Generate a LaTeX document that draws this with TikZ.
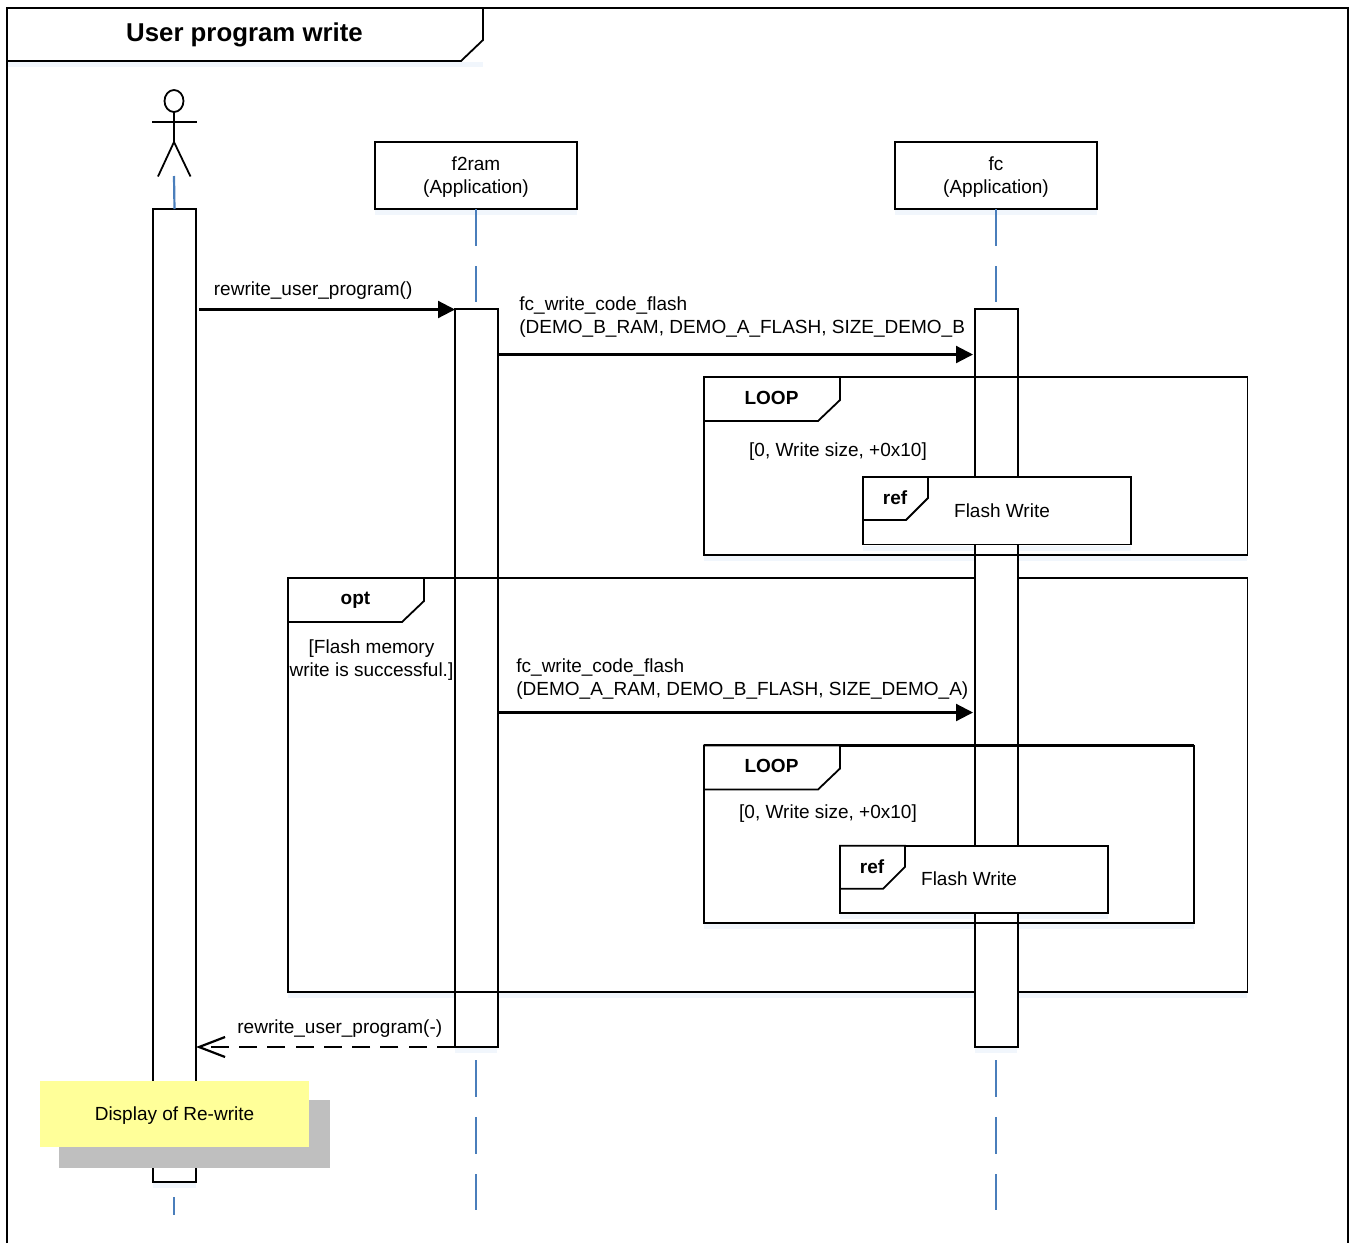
\documentclass[tikz,border=0pt]{standalone}
\usepackage{fontspec}
\setmainfont{Liberation Sans}
\usetikzlibrary{arrows.meta,shapes.geometric}

\def\txtsize{\fontsize{19}{22.7}\selectfont}

\begin{document}
\begin{tikzpicture}[x=1pt,y=-1pt,line width=1.8pt,font=\txtsize]
        \tikzstyle{box}=[rectangle,draw=black,fill=white,inner sep=0pt,outer sep=0pt]
        \tikzstyle{bar}=[box,minimum width=43pt]
        \tikzstyle{head}=[box,minimum width=202pt,minimum height=67pt]
        \tikzstyle{frame}=[rectangle,draw=black,inner sep=0pt,outer sep=0pt]
        \tikzstyle{refbox}=[box,minimum width=268pt,minimum height=67.5pt]
        \tikzstyle{tab}=[draw=black,fill=white,line join=miter]
        \tikzstyle{tabtext}=[font=\txtsize\bfseries,inner sep=0pt]
        \tikzstyle{annot}=[inner sep=0pt,align=center]
        \tikzstyle{msg}=[inner sep=0pt,anchor=base west,align=left]
        \tikzstyle{lifeline}=[draw=lifeblue,line width=2.2pt,dash pattern=on 37pt off 20pt]
        \tikzstyle{glow}=[draw=glowblue,line width=5pt]
        \tikzstyle{call}=[-{Triangle[length=17pt,width=17pt]},line width=2.2pt]
        \tikzstyle{answer}=[-{Straight Barb[length=26pt,width=20pt]},line width=2.2pt,dash pattern=on 18pt off 10.3pt]
        \definecolor{lifeblue}{HTML}{4A7EBB}
        \definecolor{glowblue}{HTML}{F1F6FC}
        \definecolor{notefill}{HTML}{FFFF99}
        \definecolor{noteshadow}{HTML}{BFBFBF}

        \useasboundingbox (0,0) rectangle (1352,1243);

        % Soft edge under the boxes
        \foreach \xa/\xb/\y in {7/483/64,375/577/212,895/1097/212,704/1247/558,288/1247/995,704/1194/926,
                                863/1131/548,840/1108/916,153/196/1185,455/497/1050,975/1017/1050}
            \draw[glow] (\xa,\y) -- (\xb,\y);

        % The outer frame, open at the bottom
        \coordinate (outerSW) at (7,1243);
        \coordinate (outerNW) at (7,8);
        \coordinate (outerNE) at (1348,8);
        \coordinate (outerSE) at (1348,1243);
        \draw (outerSW) -- (outerNW) -- (outerNE) -- (outerSE);
        \draw[tab] (outerNW) -- (483,8) -- (483,40) -- (461,61) -- (7,61) -- cycle;
        \node[inner sep=0pt,font=\fontsize{25.8}{30}\selectfont\bfseries] (title) at (244.5,34.5) {User program write};

        % The lifelines' heads
        \node[head] (f2ram) at (476,175.5) {};
        \node[annot] (f2ramText) at (476,177) {f2ram\\(Application)};
        \node[head] (fc) at (996,175.5) {};
        \node[annot] (fcText) at (996,177) {fc\\(Application)};

        % The actor
        \node[draw=black,ellipse,inner sep=0pt,outer sep=0pt,minimum width=19pt,minimum height=22pt] (actorHead) at (174,101) {};
        \coordinate (actorHip) at (174,142);
        \coordinate (armL) at (152,122);
        \coordinate (armR) at (196.5,122);
        \coordinate (legL) at (158,176.5);
        \coordinate (legR) at (190.5,176.5);
        \coordinate (actorFoot) at (174,176);
        \draw (actorHead.south) -- (actorHip);
        \draw (armL) -- (armR);
        \draw (legL) -- (actorHip) -- (legR);

        % Draw the activation bars
        \node[bar,minimum height=973pt] (actorBar) at (174.5,695.5) {};
        \draw[draw=lifeblue,line width=2.2pt] (actorFoot) -- (actorBar.north);
        \node[bar,minimum height=738pt] (f2ramBar) at (476.5,678) {};

        % Lifelines above and below the bars
        \foreach \name/\x in {f2ram/476,fc/996} {
            \coordinate (\name Top) at (\x,302);
            \coordinate (\name Low) at (\x,1060);
            \coordinate (\name End) at (\x,1210);
            \draw[lifeline] (\name.south) -- (\name Top);
            \draw[lifeline] (\name Low) -- (\name End);
        }
        \coordinate (actorLow) at (174,1197);
        \coordinate (actorEnd) at (174,1215);
        \draw[draw=lifeblue,line width=2.2pt] (actorLow) -- (actorEnd);

        % The opt frame lies over the f2ram bar but under the fc bar
        \node[frame,minimum width=959.5pt,minimum height=414pt] (opt) at (767.75,785) {};
        \draw[line width=2.2pt] (opt.north west) -- (opt.north east);
        \draw[tab] (opt.north west) -- (424,578) -- (424,601) -- (402,622) -- (288,622) -- cycle;
        \node[tabtext] (optText) at (355.5,600.5) {opt};
        \node[annot] (optGuard) at (371.5,660) {[Flash memory\\write is successful.]};
        \node[bar,minimum height=738pt] (fcBar) at (996.5,678) {};

        % The LOOP frames lie over the fc bar
        \foreach \name/\x/\y/\w/\h/\top in {loopA/975.75/466/543.5/178/377,loopB/949/834.25/490/177.5/745.5} {
            \node[frame,minimum width=\w pt,minimum height=\h pt] (\name) at (\x,\y) {};
            \draw[line width=2.2pt] (\name.north west) -- (\name.north east);
            \draw[tab] (\name.north west) -- ++(136,0) -- ++(0,23) -- ++(-22,21) -- ++(-114,0) -- cycle;
            \node[tabtext] (\name Text) at (771.5,\top+20.5) {LOOP};
        }
        \node[annot] (guardA) at (838,451.5) {[0, Write size, +0x10]};
        \node[annot] (guardB) at (828,813.5) {[0, Write size, +0x10]};

        % The ref boxes
        \foreach \name/\x/\y/\tx/\ty/\lx in {refA/997/510.75/895/498/1002,refB/974/879.5/872/867/969} {
            \node[refbox] (\name) at (\x,\y) {};
            \draw[tab] (\name.north west) -- ++(65,0) -- ++(0,21) -- ++(-22,22) -- ++(-43,0) -- cycle;
            \node[tabtext] (\name Text) at (\tx,\ty) {ref};
            \node[annot] (\name Label) at (\lx,\y-0.5) {Flash Write};
        }

        % Connect the bars with the messages
        \coordinate (callA) at (199,309.5);
        \coordinate (callB) at (498,354.5);
        \coordinate (callC) at (497,712.5);
        \draw[call] (callA) -- (callA -| f2ramBar.west);
        \draw[call,shorten >=2pt] (callB) -- (callB -| fcBar.west);
        \draw[call,shorten >=2pt] (callC) -- (callC -| fcBar.west);
        \draw[answer] (f2ramBar.south west) -- (f2ramBar.south west -| actorBar.east);

        % Annotate the messages
        \node[msg] (callAText) at (213,295) {rewrite\_user\_program()};
        \node[msg] (callBText) at (518.5,333.5) {fc\_write\_code\_flash\\(DEMO\_B\_RAM, DEMO\_A\_FLASH, SIZE\_DEMO\_B};
        \node[msg] (callCText) at (515.5,695.5) {fc\_write\_code\_flash\\(DEMO\_A\_RAM, DEMO\_B\_FLASH, SIZE\_DEMO\_A)};
        \node[msg] (answerText) at (236.5,1033) {rewrite\_user\_program(-)};

        % The note with its shadow
        \node[rectangle,fill=noteshadow,minimum width=271pt,minimum height=68pt,inner sep=0pt] (noteShadow) at (194.5,1134) {};
        \node[rectangle,fill=notefill,minimum width=269pt,minimum height=66pt,inner sep=0pt] (note) at (174.5,1114) {};
        \node[annot] (noteText) at (174.5,1115.5) {Display of Re-write};
\end{tikzpicture}
\end{document}
